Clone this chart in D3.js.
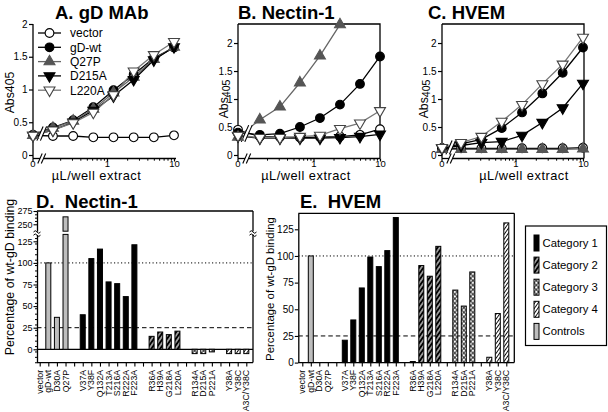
<!DOCTYPE html>
<html><head><meta charset="utf-8">
<script src="https://cdn.jsdelivr.net/npm/d3@7"></script>
<style>
html,body{margin:0;padding:0;background:#fff;}
svg{display:block;}
</style></head><body>
<svg id="c" width="608" height="412"></svg>
<script>
// ---------------- DATA ----------------
const doses = [0, 0.156, 0.3125, 0.625, 1.25, 2.5, 5, 10];
const lineSeries = ["vector", "gD-wt", "Q27P", "D215A", "L220A"];
const absTicks = [0, 0.5, 1, 1.5, 2];
const doseTicks = [1, 10];
const doseMinor = [0.2,0.3,0.4,0.5,0.6,0.7,0.8,0.9,2,3,4,5,6,7,8,9];

// Panel A: gD MAb
const mabVector = [0.30, 0.29, 0.29, 0.27, 0.27, 0.27, 0.27, 0.30];
const mabWt     = [0.31, 0.42, 0.53, 0.73, 0.99, 1.23, 1.48, 1.64];
const mabQ27P   = [0.30, 0.41, 0.52, 0.70, 0.95, 1.19, 1.46, 1.65];
const mabD215A  = [0.30, 0.38, 0.50, 0.68, 0.90, 1.15, 1.45, 1.65];
const mabL220A  = [0.30, 0.38, 0.49, 0.65, 0.92, 1.28, 1.53, 1.73];

// Panel B: Nectin-1
const necVector = [0.45, 0.33, 0.32, 0.31, 0.32, 0.33, 0.36, 0.46];
const necWt     = [0.40, 0.36, 0.38, 0.50, 0.66, 0.90, 1.27, 1.76];
const necQ27P   = [0.32, 0.63, 0.86, 1.29, 1.77, 2.33, null, null];
const necD215A  = [0.34, 0.30, 0.30, 0.30, 0.30, 0.31, 0.33, 0.37];
const necL220A  = [0.35, 0.31, 0.31, 0.33, 0.35, 0.47, 0.57, 0.79];

// Panel C: HVEM
const hvVector = [0.12, 0.12, 0.12, 0.12, 0.12, 0.12, 0.12, 0.13];
const hvWt     = [0.12, 0.20, 0.28, 0.48, 0.76, 1.10, 1.47, 1.92];
const hvQ27P   = [0.10, 0.10, 0.10, 0.10, 0.10, 0.10, 0.10, 0.11];
const hvD215A  = [0.12, 0.17, 0.22, 0.24, 0.35, 0.58, 0.84, 1.28];
const hvL220A  = [0.13, 0.22, 0.33, 0.60, 0.90, 1.27, 1.62, 2.10];

// Panels D/E: binding (% of wt-gD)
const mutants = ["vector","gD-wt","D30A","Q27P",
  "V37A","Y38F","Q132A","T213A","S216A","R222A","F223A",
  "R36A","H39A","G218A","L220A",
  "R134A","D215A","P221A",
  "Y38A","Y38C","A3C/Y38C"];
const mutantGroup = ["Controls","Controls","Controls","Controls",
  "Category 1","Category 1","Category 1","Category 1","Category 1","Category 1","Category 1",
  "Category 2","Category 2","Category 2","Category 2",
  "Category 3","Category 3","Category 3",
  "Category 4","Category 4","Category 4"];
const nectinBinding = [0,100,37,264, 40,105,116,78,76,61,121, 15,20,17,21, -5,-5,-3, -5,-5,-5];
const hvemBinding   = [0,100,0,0, 21,40,70,99,90,105,136, 1,91,81,109, 68,53,85, 5,46,131];
const legendCategories = ["Category 1","Category 2","Category 3","Category 4","Controls"];
const pctTicks = [0,25,50,75,100,125];
const pctTicksUpper = [250,275];

// ---------------- DRAW ----------------
const FONT = '"Liberation Sans", Arial, Helvetica, sans-serif';
const svg = d3.select("#c").attr("font-family", FONT);

const defs = svg.append("defs");
function stripes(id, bg, fg, angle, w, sw) {
  const p = defs.append("pattern").attr("id", id).attr("patternUnits","userSpaceOnUse")
    .attr("width", w).attr("height", w).attr("patternTransform", `rotate(${angle})`);
  p.append("rect").attr("width", w).attr("height", w).attr("fill", bg);
  p.append("line").attr("x1", w/2).attr("x2", w/2).attr("y1", -1).attr("y2", w+1)
    .attr("stroke", fg).attr("stroke-width", sw);
}
stripes("cat2", "#000", "#fff", 35, 3.6, 1.1);
stripes("cat4", "#fff", "#000", 35, 2.8, 0.9);
{
  const w = 3.2;
  const p = defs.append("pattern").attr("id","cat3").attr("patternUnits","userSpaceOnUse")
    .attr("width", w).attr("height", w).attr("patternTransform","rotate(45)");
  p.append("rect").attr("width", w).attr("height", w).attr("fill","#fff");
  p.append("line").attr("x1", w/2).attr("x2", w/2).attr("y1", -1).attr("y2", w+1).attr("stroke","#000").attr("stroke-width",0.8);
  p.append("line").attr("y1", w/2).attr("y2", w/2).attr("x1", -1).attr("x2", w+1).attr("stroke","#000").attr("stroke-width",0.8);
}
const groupFill = {"Category 1":"#000","Category 2":"url(#cat2)","Category 3":"url(#cat3)","Category 4":"url(#cat4)","Controls":"#bdbdbd"};

const seriesStyle = {
  "vector": {sym: d3.symbolCircle, rot: 0, fill: "#fff", stroke: "#000", line: "#000"},
  "gD-wt":  {sym: d3.symbolCircle, rot: 0, fill: "#000", stroke: "#000", line: "#000"},
  "Q27P":   {sym: d3.symbolTriangle, rot: 0, fill: "#555", stroke: "#555", line: "#666"},
  "D215A":  {sym: d3.symbolTriangle, rot: 180, fill: "#000", stroke: "#000", line: "#000"},
  "L220A":  {sym: d3.symbolTriangle, rot: 180, fill: "#fff", stroke: "#444", line: "#777"}
};
function symPath(name) {
  const s = seriesStyle[name];
  return d3.symbol().type(s.sym).size(s.sym === d3.symbolCircle ? 60 : 52)();
}

function title(x, y, txt) {
  svg.append("text").attr("x", x).attr("y", y).attr("font-size", 18.5)
    .attr("font-weight", "bold").style("white-space", "pre").text(txt);
}

function linePanel(cfg) {
  const g = svg.append("g");
  const x = d3.scaleLog().domain([1, 10]).range([cfg.x1, cfg.x10]);
  const xp = d => d === 0 ? cfg.xZero : x(d);
  const y = d3.scaleLinear().domain([0, cfg.yMax]).range([cfg.y0, cfg.yTop]);
  const axisY = cfg.axisY;
  const xEnd = cfg.xRight;

  if (cfg.frame) {
    g.append("path").attr("d", `M${cfg.xZero},${cfg.yTop}H${xEnd}V${axisY}`)
      .attr("fill", "none").attr("stroke", "#000").attr("stroke-width", 1.3);
  }
  // y axis
  g.append("line").attr("x1", cfg.xZero).attr("x2", cfg.xZero).attr("y1", cfg.yTop).attr("y2", axisY)
    .attr("stroke", "#000").attr("stroke-width", 1.3);
  const ya = g.append("g").attr("transform", `translate(${cfg.xZero},0)`)
    .call(d3.axisLeft(y).tickValues(absTicks).tickFormat(d3.format("~g")).tickSize(4).tickPadding(1.5));
  ya.select(".domain").remove();
  ya.attr("font-family", FONT).attr("font-size", 10);
  ya.selectAll("line").attr("stroke-width", 1.2);

  // x axis (broken near zero)
  const b1 = cfg.xZero + 7, b2 = cfg.xZero + 10.5;
  g.append("line").attr("x1", cfg.xZero).attr("x2", b1).attr("y1", axisY).attr("y2", axisY).attr("stroke", "#000").attr("stroke-width", 1.3);
  g.append("line").attr("x1", b2).attr("x2", xEnd).attr("y1", axisY).attr("y2", axisY).attr("stroke", "#000").attr("stroke-width", 1.3);
  [b1, b2].forEach(c => g.append("line").attr("x1", c - 2.2).attr("x2", c + 2.2)
    .attr("y1", axisY + 5).attr("y2", axisY - 5).attr("stroke", "#000").attr("stroke-width", 1.1));
  const xa = g.append("g").attr("transform", `translate(0,${axisY})`)
    .call(d3.axisBottom(x).tickValues(doseTicks).tickFormat(d3.format("~g")).tickSize(3).tickPadding(-0.8));
  xa.select(".domain").remove();
  xa.attr("font-family", FONT).attr("font-size", 9.5);
  xa.selectAll("line").attr("stroke-width", 1.2);
  const xm = g.append("g").attr("transform", `translate(0,${axisY})`)
    .call(d3.axisBottom(x).tickValues(doseMinor).tickFormat("").tickSize(2.2));
  xm.select(".domain").remove();
  xm.selectAll("line").attr("stroke-width", 1);
  // zero tick
  g.append("line").attr("x1", cfg.xZero).attr("x2", cfg.xZero).attr("y1", axisY).attr("y2", axisY + 3).attr("stroke", "#000").attr("stroke-width", 1.2);
  g.append("text").attr("x", cfg.xZero).attr("y", axisY + 2.2).attr("dy", "0.71em").attr("text-anchor", "middle")
    .attr("font-size", 9.5).text(d3.format("~g")(doses[0]));

  // labels
  g.append("text").attr("x", (cfg.xZero + xEnd) / 2 + cfg.xlabOff).attr("y", 180.2).attr("text-anchor", "middle")
    .attr("font-size", 12.8).attr("letter-spacing", 0.5).text("\u00b5L/well extract");
  const yl = g.append("text").attr("transform", `translate(${cfg.ylabX},${cfg.ylabY}) rotate(-90)`)
    .attr("text-anchor", "middle").attr("dy", "0.35em").attr("font-size", 12.3);
  yl.append("tspan").text("Abs");
  if (cfg.sub) yl.append("tspan").attr("font-size", 10.5).attr("dy", 1.5).text("405");
  else yl.append("tspan").text("405");

  // lines
  const line = d3.line().defined(d => d.v != null).x(d => xp(d.d)).y(d => y(d.v));
  const data = cfg.series.map((vals, i) => ({name: lineSeries[i], pts: doses.map((d, j) => ({d, v: vals[j]}))}));
  data.forEach(s => {
    g.append("path").attr("d", line(s.pts)).attr("fill", "none")
      .attr("stroke", seriesStyle[s.name].line).attr("stroke-width", 1.3);
  });
  // data-line break mark
  const bc = (b1 + b2) / 2;
  const vAt = data.map(s => {
    const p0 = s.pts[0], p1 = s.pts[1];
    const t = (bc - xp(p0.d)) / (xp(p1.d) - xp(p0.d));
    return y(p0.v + (p1.v - p0.v) * t);
  });
  const yMin = d3.min(vAt) - 5, yMax = d3.max(vAt) + 5;
  const sl = (yMax - yMin) * 0.22;
  g.append("path").attr("d", `M${b1 - sl},${yMax}L${b1 + sl},${yMin}L${b2 + sl},${yMin}L${b2 - sl},${yMax}Z`).attr("fill", "#fff");
  [b1, b2].forEach(c => g.append("line").attr("x1", c - sl).attr("x2", c + sl).attr("y1", yMax).attr("y2", yMin)
    .attr("stroke", "#000").attr("stroke-width", 1.1));
  // markers
  data.forEach(s => {
    const st = seriesStyle[s.name];
    g.selectAll(null).data(s.pts.filter(p => p.v != null)).join("path")
      .attr("d", symPath(s.name))
      .attr("transform", p => `translate(${xp(p.d)},${y(p.v)}) rotate(${st.rot})`)
      .attr("fill", st.fill).attr("stroke", st.stroke).attr("stroke-width", 1.1);
  });
  // legend (panel A)
  if (cfg.legend) {
    lineSeries.forEach((n, i) => {
      const ly = 33 + i * 14.3;
      const st = seriesStyle[n];
      g.append("line").attr("x1", 38).attr("x2", 61).attr("y1", ly).attr("y2", ly).attr("stroke", st.line).attr("stroke-width", 1.3);
      g.append("path").attr("d", symPath(n)).attr("transform", `translate(49.5,${ly}) rotate(${st.rot})`)
        .attr("fill", st.fill).attr("stroke", st.stroke).attr("stroke-width", 1.1);
      g.append("text").attr("x", 70).attr("y", ly).attr("dy", "0.36em").attr("font-size", 12).text(n);
    });
  }
}

// slots with gaps between groups
const slots = [];
mutants.forEach((m, i) => {
  if (i > 0 && mutantGroup[i] !== mutantGroup[i - 1]) slots.push("gap" + i);
  slots.push(m);
});

function squiggle(g, x, y) {
  g.append("path").attr("d", `M${x - 3.5},${y + 0.8} q1.75,-2.6 3.5,0 t3.5,0`)
    .attr("fill", "none").attr("stroke", "#000").attr("stroke-width", 1);
}

function barPanel(cfg) {
  const g = svg.append("g");
  const x = d3.scalePoint().domain(slots).range([cfg.xFirst, cfg.xLast]);
  const yLow = d3.scaleLinear().domain(cfg.lowDomain).range(cfg.lowRange);
  const yUp = cfg.upDomain ? d3.scaleLinear().domain(cfg.upDomain).range(cfg.upRange) : null;
  const bottom = cfg.lowRange[0];
  const L = cfg.left, R = cfg.right, T = cfg.top;
  const bw = 5;

  const hl = (v, dash, w) => g.append("line").attr("x1", L).attr("x2", R).attr("y1", yLow(v)).attr("y2", yLow(v))
    .attr("stroke", "#000").attr("stroke-width", w).attr("stroke-dasharray", dash);
  hl(100, "1.2,2.3", 1);
  hl(25, "4.5,3", 1);
  if (cfg.zeroLine) hl(0, null, 1.3);

  // bars
  const data = mutants.map((m, i) => ({m, v: cfg.values[i], grp: mutantGroup[i]}));
  data.filter(d => d.v !== 0).forEach(d => {
    const cx = x(d.m);
    const fill = groupFill[d.grp];
    const y0 = yLow(0);
    if (yUp && d.v > cfg.lowDomain[1]) {
      g.append("rect").attr("x", cx - bw / 2).attr("width", bw).attr("y", yLow(cfg.lowDomain[1])).attr("height", y0 - yLow(cfg.lowDomain[1]))
        .attr("fill", fill).attr("stroke", "#000").attr("stroke-width", 1);
      g.append("rect").attr("x", cx - bw / 2).attr("width", bw).attr("y", yUp(d.v)).attr("height", yUp(cfg.upDomain[0]) - yUp(d.v))
        .attr("fill", fill).attr("stroke", "#000").attr("stroke-width", 1);
    } else {
      const yv = yLow(d.v);
      g.append("rect").attr("x", cx - bw / 2).attr("width", bw)
        .attr("y", Math.min(yv, y0)).attr("height", Math.max(0.6, Math.abs(y0 - yv)))
        .attr("fill", fill).attr("stroke", "#000").attr("stroke-width", 1);
    }
  });

  // frame
  g.append("line").attr("x1", L).attr("x2", R).attr("y1", T).attr("y2", T).attr("stroke", "#000").attr("stroke-width", 1.3);
  g.append("line").attr("x1", L).attr("x2", R).attr("y1", bottom).attr("y2", bottom).attr("stroke", "#000").attr("stroke-width", 1.3);
  if (yUp) {
    const gA = yUp(cfg.upDomain[0]), gB = yLow(cfg.lowDomain[1]);
    g.append("line").attr("x1", R).attr("x2", R).attr("y1", T).attr("y2", gA).attr("stroke", "#000").attr("stroke-width", 1.3);
    g.append("line").attr("x1", R).attr("x2", R).attr("y1", gB).attr("y2", bottom).attr("stroke", "#000").attr("stroke-width", 1.3);
    [L, R].forEach(xx => { squiggle(g, xx, gA); squiggle(g, xx, gB); });
  } else {
    g.append("line").attr("x1", R).attr("x2", R).attr("y1", T).attr("y2", bottom).attr("stroke", "#000").attr("stroke-width", 1.3);
  }

  // y axis
  const ay = g.append("g").attr("transform", `translate(${L},0)`)
    .call(d3.axisLeft(yLow).tickValues(pctTicks).tickSize(3.5).tickPadding(1).tickSizeOuter(0));
  ay.attr("font-family", FONT).attr("font-size", cfg.tickFs);
  ay.selectAll("line").attr("stroke-width", 1.1);
  ay.select(".domain").attr("stroke-width", 1.3);
  if (cfg.minor) {
    const mt = d3.range(cfg.lowDomain[0] + 0.4, cfg.lowDomain[1], 6.25);
    const am = g.append("g").attr("transform", `translate(${L},0)`)
      .call(d3.axisLeft(yLow).tickValues(mt.filter(v => Math.abs(v % 25) > 0.1)).tickSize(2).tickFormat(""));
    am.select(".domain").remove();
  }
  if (yUp) {
    const au = g.append("g").attr("transform", `translate(${L},0)`)
      .call(d3.axisLeft(yUp).tickValues(pctTicksUpper).tickSize(3.5).tickPadding(1).tickSizeOuter(0));
    au.attr("font-family", FONT).attr("font-size", cfg.tickFs);
    au.selectAll("line").attr("stroke-width", 1.1);
    au.select(".domain").attr("stroke-width", 1.3);
    const am2 = g.append("g").attr("transform", `translate(${L},0)`)
      .call(d3.axisLeft(yUp).tickValues(d3.range(256.25, 275, 6.25)).tickSize(2).tickFormat(""));
    am2.select(".domain").remove();
  }

  // x axis ticks (every slot) and category labels
  const ax = g.append("g").attr("transform", `translate(0,${bottom})`)
    .call(d3.axisBottom(x).tickSize(4).tickSizeOuter(0).tickFormat(""));
  ax.select(".domain").remove();
  ax.selectAll("line").attr("stroke-width", 1.1);
  g.selectAll(null).data(mutants).join("text")
    .attr("transform", m => `translate(${x(m)},${bottom + 7.2}) rotate(-90)`)
    .attr("text-anchor", "end").attr("dy", "0.35em").attr("font-size", 8.8)
    .text(m => m);

  // y label
  g.append("text").attr("transform", `translate(${cfg.ylabX},${cfg.ylabY}) rotate(-90)`)
    .attr("text-anchor", "middle").attr("dy", "0.35em").attr("font-size", cfg.ylabFs)
    .text("Percentage of wt-gD binding");
}

// titles
title(55, 19, "A. gD MAb");
title(238, 19, "B. Nectin-1");
title(428, 19, "C. HVEM");
title(36, 207.5, "D.  Nectin-1");
title(300, 207.5, "E.  HVEM");

linePanel({xZero: 33, x1: 107, x10: 174, xRight: 176, y0: 155, yTop: 24, yMax: 2.0, axisY: 158.5,
  frame: false, series: [mabVector, mabWt, mabQ27P, mabD215A, mabL220A], legend: true,
  ylabX: 10, ylabY: 92.5, sub: false, xlabOff: -8});
linePanel({xZero: 238, x1: 313.5, x10: 380, xRight: 380, y0: 155, yTop: 24, yMax: 2.34, axisY: 158.5,
  frame: true, series: [necVector, necWt, necQ27P, necD215A, necL220A], legend: false,
  ylabX: 224, ylabY: 99, sub: true, xlabOff: -3});
linePanel({xZero: 442, x1: 515.5, x10: 583, xRight: 584, y0: 155, yTop: 24, yMax: 2.34, axisY: 158.5,
  frame: true, series: [hvVector, hvWt, hvQ27P, hvD215A, hvL220A], legend: false,
  ylabX: 424, ylabY: 99, sub: true, xlabOff: 11});

barPanel({left: 37, right: 253, top: 211, xFirst: 39.7, xLast: 246.3,
  lowDomain: [-15.4, 133], lowRange: [362.6, 234.4], upDomain: [237, 275], upRange: [231.2, 211],
  values: nectinBinding, zeroLine: true, minor: true, tickFs: 9,
  ylabX: 9.5, ylabY: 277, ylabFs: 12.4});
barPanel({left: 298.3, right: 514.3, top: 213.3, xFirst: 302.3, xLast: 506.3,
  lowDomain: [0, 140], lowRange: [362.6, 213.3], upDomain: null,
  values: hvemBinding, zeroLine: false, minor: false, tickFs: 10,
  ylabX: 270, ylabY: 289, ylabFs: 11.4});

// legend
{
  const g = svg.append("g");
  g.append("rect").attr("x", 525.5).attr("y", 226).attr("width", 81).attr("height", 119.5)
    .attr("fill", "#fff").attr("stroke", "#000").attr("stroke-width", 1.2);
  legendCategories.forEach((c, i) => {
    const ly = 243 + i * 22.1;
    g.append("rect").attr("x", 534).attr("y", ly - 8).attr("width", 5).attr("height", 16)
      .attr("fill", groupFill[c]).attr("stroke", "#000").attr("stroke-width", 1);
    g.append("text").attr("x", 542.5).attr("y", ly).attr("dy", "0.36em").attr("font-size", 11.3).text(c);
  });
}
</script>
</body></html>
